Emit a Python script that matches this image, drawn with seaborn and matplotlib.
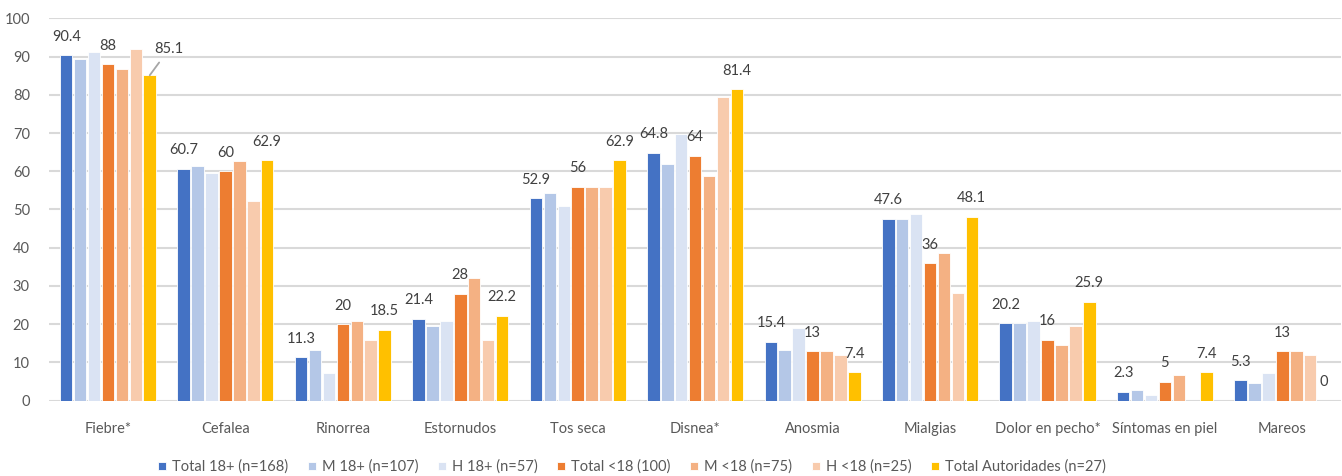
import matplotlib
matplotlib.use("Agg")
import matplotlib.pyplot as plt
import seaborn as sns
import pandas as pd

# Symptom categories
categories = ["Fiebre*", "Cefalea", "Rinorrea", "Estornudos", "Tos seca", "Disnea*",
              "Anosmia", "Mialgias", "Dolor en pecho*", "Síntomas en piel", "Mareos"]

# Percentage of each group reporting the symptom
total_18 = [90.4, 60.7, 11.3, 21.4, 52.9, 64.8, 15.4, 47.6, 20.2, 2.3, 5.3]
m_18 = [89.3, 61.4, 13.2, 19.6, 54.2, 61.9, 13.2, 47.6, 20.2, 2.8, 4.7]
h_18 = [91.3, 59.6, 7.3, 20.9, 50.9, 69.7, 19.0, 48.9, 20.9, 1.4, 7.3]
total_u18 = [88, 60, 20, 28, 56, 64, 13, 36, 16, 5, 13]
m_u18 = [86.7, 62.6, 20.9, 32.0, 56, 58.8, 13, 38.5, 14.5, 6.7, 13]
h_u18 = [91.9, 52.2, 15.8, 15.8, 56, 79.5, 11.9, 28.1, 19.6, 0, 11.9]
total_aut = [85.1, 62.9, 18.5, 22.2, 62.9, 81.4, 7.4, 48.1, 25.9, 7.4, 0]

series_names = ["Total 18+ (n=168)", "M 18+ (n=107)", "H 18+ (n=57)", "Total <18 (100)",
                "M <18 (n=75)", "H <18 (n=25)", "Total Autoridades (n=27)"]
series_values = [total_18, m_18, h_18, total_u18, m_u18, h_u18, total_aut]
colors = ["#4472C4", "#B4C7E7", "#DAE3F3", "#ED7D31", "#F4B183", "#F8CBAD", "#FFC000"]

# Only the "Total" series carry value labels
labelled = {"Total 18+ (n=168)", "Total <18 (100)", "Total Autoridades (n=27)"}

rows = []
for name, vals in zip(series_names, series_values):
    for cat, v in zip(categories, vals):
        rows.append({"Síntoma": cat, "Grupo": name, "Valor": v})
df = pd.DataFrame(rows)

sns.set_theme(style="white")
plt.rcParams["font.family"] = ["Lato", "DejaVu Sans"]

fig = plt.figure(figsize=(13.42, 4.76), dpi=100)
ax = fig.add_axes([0.0367, 0.1582, 0.9626, 0.8034])

sns.barplot(data=df, x="Síntoma", y="Valor", hue="Grupo", order=categories,
            hue_order=series_names, palette=colors, width=0.83, gap=0.1,
            edgecolor="white", linewidth=0.6, saturation=1, errorbar=None, ax=ax)

ax.set_ylim(0, 100)
ax.set_yticks(range(0, 101, 10))
ax.set_xlim(-0.5, len(categories) - 0.5)
ax.yaxis.grid(True, color="#D9D9D9", linewidth=1.5)
ax.set_axisbelow(True)
for s in ax.spines.values():
    s.set_visible(False)
ax.set_xlabel("")
ax.set_ylabel("")
ax.tick_params(axis="y", labelsize=10.5, colors="#595959", length=0, pad=14)
ax.tick_params(axis="x", labelsize=10.5, colors="#595959", length=0, pad=15)

label_kw = dict(ha="center", va="center", fontsize=10.5, color="#404040",
                textcoords="offset points")
for name, container in zip(series_names, ax.containers):
    if name not in labelled:
        continue
    for cat, bar in zip(categories, container):
        h = bar.get_height()
        xc = bar.get_x() + bar.get_width() / 2
        txt = f"{h:g}"
        if name == "Total Autoridades (n=27)" and cat == "Fiebre*":
            ax.annotate(txt, (xc, h), xytext=(14, 19),
                        arrowprops=dict(arrowstyle="-", color="#A6A6A6", lw=1.3,
                                        shrinkA=3, shrinkB=0), **label_kw)
        else:
            ax.annotate(txt, (xc, h), xytext=(0, 13.3), **label_kw)

ax.legend_.remove()
handles, labels = ax.get_legend_handles_labels()
fig.legend(handles, labels, loc="center", bbox_to_anchor=(0.471, 0.019), ncol=7,
           frameon=False, fontsize=10.5, handlelength=0.55, handleheight=0.55,
           handletextpad=0.4, columnspacing=1.35, labelcolor="#595959")

fig.savefig("out.png", dpi=100)
